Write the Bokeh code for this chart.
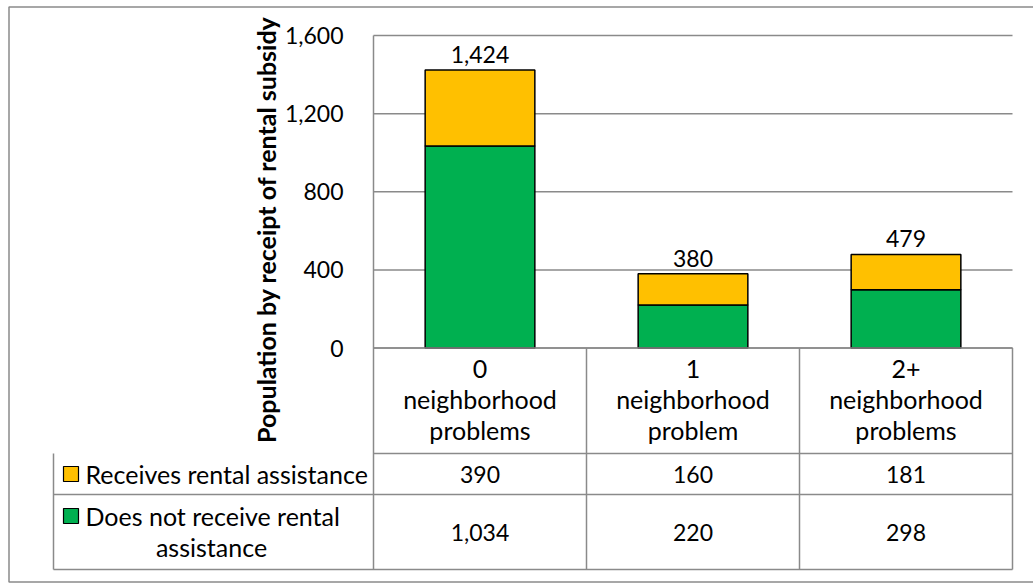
import math
from bokeh.plotting import figure
from bokeh.models import Range1d, ColumnDataSource
from bokeh.core.properties import value
from bokeh.embed import file_html
from bokeh.resources import INLINE

# ---------------- data ----------------
categories = ["0 neighborhood problems", "1 neighborhood problem", "2+ neighborhood problems"]
category_labels = ["0\nneighborhood\nproblems", "1\nneighborhood\nproblem", "2+\nneighborhood\nproblems"]
receives = [390, 160, 181]
does_not_receive = [1034, 220, 298]
series_receives = "Receives rental assistance"
series_not_line1 = "Does not receive rental"
series_not_line2 = "assistance"
y_ticks = [0, 400, 800, 1200, 1600]
y_title = "Population by receipt of rental subsidy"

totals = [a + b for a, b in zip(receives, does_not_receive)]
cat_x = [i + 0.5 for i in range(len(categories))]

# ---------------- style / layout (page pixels) ----------------
YELLOW = "#FFC000"
GREEN = "#00B050"
GRID = "#8a8a8a"
FONT = "Lato"
FS_NUM = "23px"
FS_TXT = "25px"

W, H = 1033, 584
COL_L, COL_R = 373, 1012            # plot area / category columns
Y_TOP_PX, Y_ZERO_PX = 35.0, 347.5   # rows of top tick and 0
ROW_HEAD_B, ROW1_B, ROW2_B = 453, 494, 569
LEG_L = 53
TICK_R = 343

ppu = (Y_ZERO_PX - Y_TOP_PX) / y_ticks[-1]
cw = (COL_R - COL_L) / len(categories)

p = figure(width=W, height=H,
           x_range=Range1d(-COL_L / cw, len(categories) + (W - COL_R) / cw),
           y_range=Range1d(-(H - Y_ZERO_PX) / ppu, y_ticks[-1] + Y_TOP_PX / ppu),
           output_backend="svg", toolbar_location=None,
           min_border=0, min_border_left=0, min_border_right=0,
           min_border_top=0, min_border_bottom=0,
           x_axis_location=None, y_axis_location=None)
p.extra_x_ranges = {"px": Range1d(0, W)}
p.extra_y_ranges = {"px": Range1d(H, 0)}
p.outline_line_color = None
p.background_fill_color = "white"
p.border_fill_color = "white"
p.grid.visible = False

# ---------------- outer chart border ----------------
p.quad(left=[8.5], right=[W + 10], top=[6.5], bottom=[581.5],
       x_range_name="px", y_range_name="px",
       fill_color=None, line_color=GRID, line_width=1.5)

# ---------------- value axis: gridlines + tick labels ----------------
p.segment(x0=[COL_L] * len(y_ticks), x1=[COL_R] * len(y_ticks), y0=y_ticks, y1=y_ticks,
          x_range_name="px", line_color=GRID, line_width=1.5)
p.text(x=[TICK_R] * len(y_ticks), y=y_ticks, text=[f"{t:,}" for t in y_ticks],
       x_range_name="px", text_align="right", text_baseline="middle",
       text_font=value(FONT), text_font_size=FS_NUM, text_color="black")

# axis title
p.text(x=[265], y=[229], text=[y_title], angle=math.pi / 2,
       x_range_name="px", y_range_name="px",
       text_align="center", text_baseline="middle", text_font=value(FONT),
       text_font_style="bold", text_font_size="25px", text_color="black")

# ---------------- bars ----------------
src = ColumnDataSource(dict(x=cat_x, does_not=does_not_receive, receives=receives,
                            total=totals, total_lbl=[f"{v:,}" for v in totals]))
p.vbar_stack(["does_not", "receives"], x="x", width=0.515, source=src,
             fill_color=[GREEN, YELLOW], line_color="black", line_width=1.5)
p.text(x="x", y="total", text="total_lbl", source=src, text_align="center",
       text_baseline="bottom", y_offset=-7, text_font=value(FONT),
       text_font_size=FS_NUM, text_color="black")

# ---------------- data table ----------------
div_x = [COL_L + cw * i for i in range(len(categories) + 1)]
hx0 = [COL_L, COL_L, LEG_L, LEG_L] + div_x + [LEG_L]
hx1 = [COL_R, COL_R, COL_R, COL_R] + div_x + [LEG_L]
hy0 = [Y_ZERO_PX, ROW_HEAD_B, ROW1_B, ROW2_B, Y_TOP_PX] + [Y_ZERO_PX] * 3 + [ROW_HEAD_B]
hy1 = [Y_ZERO_PX, ROW_HEAD_B, ROW1_B, ROW2_B] + [ROW2_B] * 4 + [ROW2_B]
p.segment(x0=hx0, y0=hy0, x1=hx1, y1=hy1, x_range_name="px", y_range_name="px",
          line_color=GRID, line_width=1.5)

tsrc = ColumnDataSource(dict(x=cat_x, lbl=category_labels,
                             r1=[f"{v:,}" for v in receives],
                             r2=[f"{v:,}" for v in does_not_receive],
                             yh=[(Y_ZERO_PX + ROW_HEAD_B) / 2 - 2] * 3,
                             y1=[(ROW_HEAD_B + ROW1_B) / 2] * 3,
                             y2=[(ROW1_B + ROW2_B) / 2] * 3))
p.text(x="x", y="yh", text="lbl", source=tsrc, y_range_name="px",
       text_align="center", text_baseline="middle", text_line_height=1.03,
       text_font=value(FONT), text_font_size=FS_TXT, text_color="black")
for col, ycol in (("r1", "y1"), ("r2", "y2")):
    p.text(x="x", y=ycol, text=col, source=tsrc, y_range_name="px",
           text_align="center", text_baseline="middle",
           text_font=value(FONT), text_font_size=FS_NUM, text_color="black")

# legend keys and series names (first column of the table)
p.quad(left=[63, 63], right=[78, 78], top=[466, 508], bottom=[481, 523],
       x_range_name="px", y_range_name="px",
       fill_color=[YELLOW, GREEN], line_color="black", line_width=1.2)
p.text(x=[85, 85, 211], y=[473.5, 515, 546],
       text=[series_receives, series_not_line1, series_not_line2],
       text_align=["left", "left", "center"], text_baseline="middle",
       x_range_name="px", y_range_name="px",
       text_font=value(FONT), text_font_size=FS_TXT, text_color="black")

open("out.html", "w").write(file_html(p, INLINE))
